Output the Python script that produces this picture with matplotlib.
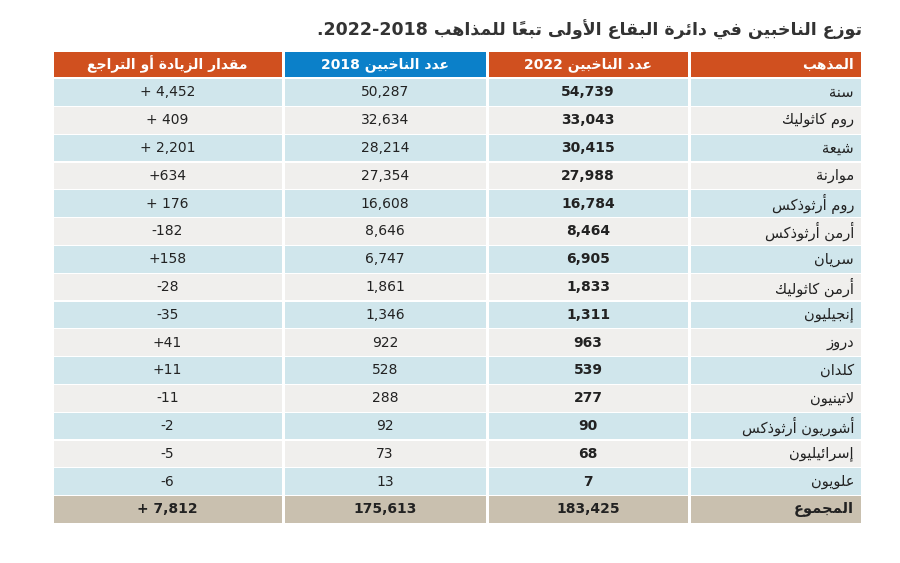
import matplotlib
matplotlib.use("Agg")
import matplotlib.pyplot as plt
from matplotlib.patches import Rectangle

# Arabic presentation forms: isolated, final, initial, medial (None = does not join forward)
FORMS = {
    'ء': (0xFE80, None, None, None), 'آ': (0xFE81, 0xFE82, None, None),
    'أ': (0xFE83, 0xFE84, None, None), 'ؤ': (0xFE85, 0xFE86, None, None),
    'إ': (0xFE87, 0xFE88, None, None), 'ئ': (0xFE89, 0xFE8A, 0xFE8B, 0xFE8C),
    'ا': (0xFE8D, 0xFE8E, None, None), 'ب': (0xFE8F, 0xFE90, 0xFE91, 0xFE92),
    'ة': (0xFE93, 0xFE94, None, None), 'ت': (0xFE95, 0xFE96, 0xFE97, 0xFE98),
    'ث': (0xFE99, 0xFE9A, 0xFE9B, 0xFE9C), 'ج': (0xFE9D, 0xFE9E, 0xFE9F, 0xFEA0),
    'ح': (0xFEA1, 0xFEA2, 0xFEA3, 0xFEA4), 'خ': (0xFEA5, 0xFEA6, 0xFEA7, 0xFEA8),
    'د': (0xFEA9, 0xFEAA, None, None), 'ذ': (0xFEAB, 0xFEAC, None, None),
    'ر': (0xFEAD, 0xFEAE, None, None), 'ز': (0xFEAF, 0xFEB0, None, None),
    'س': (0xFEB1, 0xFEB2, 0xFEB3, 0xFEB4), 'ش': (0xFEB5, 0xFEB6, 0xFEB7, 0xFEB8),
    'ص': (0xFEB9, 0xFEBA, 0xFEBB, 0xFEBC), 'ض': (0xFEBD, 0xFEBE, 0xFEBF, 0xFEC0),
    'ط': (0xFEC1, 0xFEC2, 0xFEC3, 0xFEC4), 'ظ': (0xFEC5, 0xFEC6, 0xFEC7, 0xFEC8),
    'ع': (0xFEC9, 0xFECA, 0xFECB, 0xFECC), 'غ': (0xFECD, 0xFECE, 0xFECF, 0xFED0),
    'ف': (0xFED1, 0xFED2, 0xFED3, 0xFED4), 'ق': (0xFED5, 0xFED6, 0xFED7, 0xFED8),
    'ك': (0xFED9, 0xFEDA, 0xFEDB, 0xFEDC), 'ل': (0xFEDD, 0xFEDE, 0xFEDF, 0xFEE0),
    'م': (0xFEE1, 0xFEE2, 0xFEE3, 0xFEE4), 'ن': (0xFEE5, 0xFEE6, 0xFEE7, 0xFEE8),
    'ه': (0xFEE9, 0xFEEA, 0xFEEB, 0xFEEC), 'و': (0xFEED, 0xFEEE, None, None),
    'ى': (0xFEEF, 0xFEF0, None, None), 'ي': (0xFEF1, 0xFEF2, 0xFEF3, 0xFEF4),
}
LAM_ALEF = {'ا': (0xFEFB, 0xFEFC), 'أ': (0xFEF7, 0xFEF8), 'إ': (0xFEF9, 0xFEFA), 'آ': (0xFEF5, 0xFEF6)}
MARKS = set('\u064b\u064c\u064d\u064e\u064f\u0650\u0651\u0652')


def shape(s):
    # clusters of (base, marks)
    cl = []
    for ch in s:
        if ch in MARKS and cl:
            cl[-1][1] += ch
        else:
            cl.append([ch, ''])
    # merge lam-alef
    merged = []
    i = 0
    while i < len(cl):
        if cl[i][0] == 'ل' and i + 1 < len(cl) and cl[i + 1][0] in LAM_ALEF:
            merged.append(['LA' + cl[i + 1][0], cl[i][1] + cl[i + 1][1]])
            i += 2
        else:
            merged.append(cl[i])
            i += 1

    def joins_fwd(b):
        if b.startswith('LA'):
            return False
        return b in FORMS and FORMS[b][2] is not None

    def joins(b):
        return b.startswith('LA') or b in FORMS

    out = []
    for k, (b, m) in enumerate(merged):
        prev = merged[k - 1][0] if k > 0 else None
        nxt = merged[k + 1][0] if k + 1 < len(merged) else None
        pj = prev is not None and joins_fwd(prev)
        if b.startswith('LA'):
            g = chr(LAM_ALEF[b[2]][1 if pj else 0])
        elif b in FORMS:
            f = FORMS[b]
            nj = nxt is not None and joins(nxt) and f[2] is not None
            if pj and nj:
                g = chr(f[3])
            elif pj:
                g = chr(f[1])
            elif nj:
                g = chr(f[2])
            else:
                g = chr(f[0])
        else:
            g = b
        out.append(g + m)
    return ''.join(reversed(out))


sects = ["سنة", "روم كاثوليك", "شيعة", "موارنة", "روم أرثوذكس", "أرمن أرثوذكس", "سريان",
         "أرمن كاثوليك", "إنجيليون", "دروز", "كلدان", "لاتينيون", "أشوريون أرثوذكس",
         "إسرائيليون", "علويون"]
voters_2022 = ["54,739", "33,043", "30,415", "27,988", "16,784", "8,464", "6,905", "1,833",
               "1,311", "963", "539", "277", "90", "68", "7"]
voters_2018 = ["50,287", "32,634", "28,214", "27,354", "16,608", "8,646", "6,747", "1,861",
               "1,346", "922", "528", "288", "92", "73", "13"]
change = ["+ 4,452", "+ 409", "+ 2,201", "+634", "+ 176", "-182", "+158", "-28", "-35",
          "+41", "+11", "-11", "-2", "-5", "-6"]
total_label = "المجموع"
total_2022 = "183,425"
total_2018 = "175,613"
total_change = "+ 7,812"

title = ".2022-2018 " + shape("توزع الناخبين في دائرة البقاع الأولى تبعاً للمذاهب")
headers = [shape("المذهب"), "2022 " + shape("عدد الناخبين"),
           "2018 " + shape("عدد الناخبين"), shape("مقدار الزيادة أو التراجع")]

W, H = 900, 563
fig = plt.figure(figsize=(9, 5.63), dpi=100)
ax = fig.add_axes([0, 0, 1, 1])
ax.set_xlim(0, W)
ax.set_ylim(H, 0)
ax.axis("off")

ORANGE = "#D0501F"
BLUE = "#0B80C9"
LBLUE = "#D0E6EC"
LGRAY = "#F0EFED"
TAN = "#C9C0AF"
TXT = "#222222"

cols = [(689, 862), (487, 689), (283, 487), (52, 283)]  # right to left
gap = 1.5
top, hh, rh = 52, 25, 27.8

ax.text(862, 30, title, ha="right", va="center", fontsize=12.5, fontweight="bold", color="#333333")

for j, (x0, x1) in enumerate(cols):
    ax.add_patch(Rectangle((x0 + gap, top), x1 - x0 - 2 * gap, hh,
                           color=BLUE if j == 2 else ORANGE, lw=0))
    if j == 0:
        ax.text(x1 - 8, top + hh / 2, headers[j], ha="right", va="center", color="white",
                fontsize=10, fontweight="bold")
    else:
        ax.text((x0 + x1) / 2, top + hh / 2, headers[j], ha="center", va="center",
                color="white", fontsize=10, fontweight="bold")

rows = [(shape(s), a, b, c) for s, a, b, c in zip(sects, voters_2022, voters_2018, change)]
rows.append((shape(total_label), total_2022, total_2018, total_change))
for i, row in enumerate(rows):
    y0 = top + hh + 1.5 + i * rh
    is_total = i == len(rows) - 1
    bg = TAN if is_total else (LBLUE if i % 2 == 0 else LGRAY)
    for j, (x0, x1) in enumerate(cols):
        ax.add_patch(Rectangle((x0 + gap, y0 + 0.6), x1 - x0 - 2 * gap, rh - 1.2, color=bg, lw=0))
        bold = is_total or j == 1
        if j == 0:
            ax.text(x1 - 8, y0 + rh / 2, row[j], ha="right", va="center", color=TXT,
                    fontsize=10.5, fontweight="bold" if is_total else "normal")
        else:
            ax.text((x0 + x1) / 2, y0 + rh / 2, row[j], ha="center", va="center", color=TXT,
                    fontsize=10, fontweight="bold" if bold else "normal")

fig.savefig("out.png", dpi=100)
